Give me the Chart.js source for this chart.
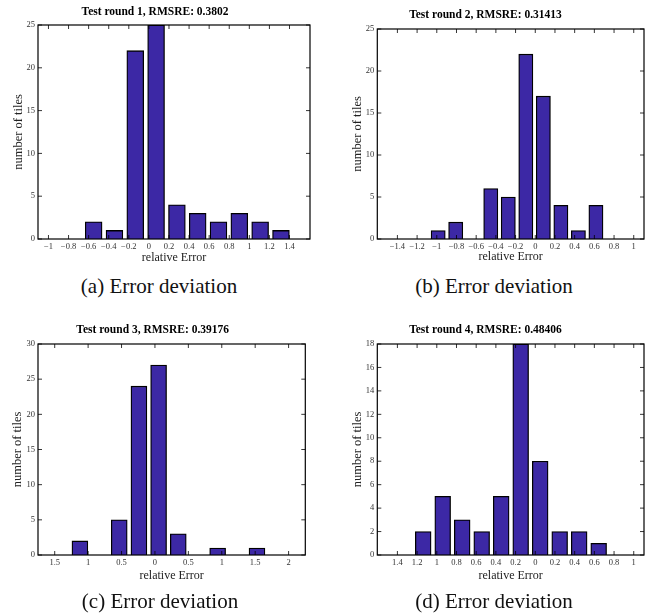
<!DOCTYPE html>
<html><head><meta charset="utf-8">
<script src="https://cdn.jsdelivr.net/npm/chart.js@4/dist/chart.umd.min.js"></script>
<style>
body{margin:0;width:655px;height:613px;background:#fff;position:relative;overflow:hidden;font-family:"Liberation Serif",serif}
canvas{position:absolute}
.cap{position:absolute;font-size:21px;transform:translate(-50%,-50%);white-space:nowrap;color:#111;line-height:1}
</style></head><body>
<canvas id="c1" width="327" height="270" style="left:0;top:0"></canvas>
<canvas id="c2" width="328" height="270" style="left:327px;top:0"></canvas>
<canvas id="c3" width="327" height="290" style="left:0;top:300px"></canvas>
<canvas id="c4" width="328" height="290" style="left:327px;top:300px"></canvas>
<div class="cap" style="left:159px;top:286px">(a) Error deviation</div>
<div class="cap" style="left:494px;top:286px">(b) Error deviation</div>
<div class="cap" style="left:160px;top:601px">(c) Error deviation</div>
<div class="cap" style="left:494px;top:601px">(d) Error deviation</div>
<script>
// ---- data ----
const titleA = 'Test round 1, RMSRE: 0.3802';
const binsA = [-0.55, -0.343, -0.136, 0.072, 0.279, 0.486, 0.693, 0.900, 1.108, 1.315];
const countsA = [2, 1, 22, 25, 4, 3, 2, 3, 2, 1];
const xTicksA = [-1, -0.8, -0.6, -0.4, -0.2, 0, 0.2, 0.4, 0.6, 0.8, 1, 1.2, 1.4];
const xLabelsA = ['\u22121', '\u22120.8', '\u22120.6', '\u22120.4', '\u22120.2', '0', '0.2', '0.4', '0.6', '0.8', '1', '1.2', '1.4'];
const yTicksA = [0, 5, 10, 15, 20, 25];

const titleB = 'Test round 2, RMSRE: 0.31413';
const binsB = [-0.986, -0.808, -0.630, -0.452, -0.274, -0.096, 0.082, 0.260, 0.438, 0.616];
const countsB = [1, 2, 0, 6, 5, 22, 17, 4, 1, 4];
const xTicksB = [-1.4, -1.2, -1, -0.8, -0.6, -0.4, -0.2, 0, 0.2, 0.4, 0.6, 0.8, 1];
const xLabelsB = ['\u22121.4', '\u22121.2', '\u22121', '\u22120.8', '\u22120.6', '\u22120.4', '\u22120.2', '0', '0.2', '0.4', '0.6', '0.8', '1'];
const yTicksB = [0, 5, 10, 15, 20, 25];

const titleC = 'Test round 3, RMSRE: 0.39176';
const binsC = [-1.123, -0.829, -0.534, -0.240, 0.055, 0.349, 0.644, 0.938, 1.233, 1.527];
const countsC = [2, 0, 5, 24, 27, 3, 0, 1, 0, 1];
const xTicksC = [-1.5, -1, -0.5, 0, 0.5, 1, 1.5, 2];
const xLabelsC = ['1.5', '1', '0.5', '0', '0.5', '1', '1.5', '2'];
const yTicksC = [0, 5, 10, 15, 20, 25, 30];

const titleD = 'Test round 4, RMSRE: 0.48406';
const binsD = [-1.138, -0.940, -0.742, -0.544, -0.346, -0.148, 0.050, 0.248, 0.446, 0.644];
const countsD = [2, 5, 3, 2, 5, 18, 8, 2, 2, 1];
const xTicksD = [-1.4, -1.2, -1, -0.8, -0.6, -0.4, -0.2, 0, 0.2, 0.4, 0.6, 0.8, 1];
const xLabelsD = ['1.4', '1.2', '1', '0.8', '0.6', '0.4', '0.2', '0', '0.2', '0.4', '0.6', '0.8', '1'];
const yTicksD = [0, 2, 4, 6, 8, 10, 12, 14, 16, 18];

const xTitle = 'relative Error';
const yTitle = 'number of tiles';

// ---- styling ----
const SERIF = '"Liberation Serif", "DejaVu Serif", serif';
const BAR = 'rgb(60,40,165)';

const frame = {
  id: 'frame',
  afterDatasetsDraw(chart) {
    const {ctx, chartArea: a, scales: {x, y}} = chart;
    ctx.save();
    ctx.strokeStyle = '#000';
    ctx.lineWidth = 1.2;
    ctx.strokeRect(a.left, a.top, a.right - a.left, a.bottom - a.top);
    ctx.lineWidth = 0.8;
    ctx.beginPath();
    x.ticks.forEach(t => {
      const p = x.getPixelForValue(t.value);
      ctx.moveTo(p, a.bottom); ctx.lineTo(p, a.bottom - 4);
      ctx.moveTo(p, a.top); ctx.lineTo(p, a.top + 4);
    });
    y.ticks.forEach(t => {
      const p = y.getPixelForValue(t.value);
      ctx.moveTo(a.left, p); ctx.lineTo(a.left + 4, p);
      ctx.moveTo(a.right, p); ctx.lineTo(a.right - 4, p);
    });
    ctx.stroke();
    ctx.restore();
  }
};

function make(id, o) {
  new Chart(document.getElementById(id), {
    type: 'bar',
    data: {datasets: [{
      data: o.bins.map((b, i) => ({x: b, y: o.counts[i]})),
      backgroundColor: BAR, borderColor: '#000', borderWidth: 1.3,
      borderSkipped: 'start', barThickness: 'flex', categoryPercentage: 1, barPercentage: 0.81
    }]},
    options: {
      responsive: false, animation: false, devicePixelRatio: 1,
      layout: {padding: {left: 0, right: o.padR, top: 0, bottom: 0}},
      plugins: {
        legend: {display: false}, tooltip: {enabled: false},
        title: {display: true, text: o.title, color: '#000',
          font: {family: SERIF, size: 11.5, weight: 'bold'},
          padding: {top: o.tTop, bottom: o.tBot}}
      },
      scales: {
        x: {
          type: 'linear', min: o.xmin, max: o.xmax,
          grid: {display: false, drawTicks: false}, border: {display: false},
          afterBuildTicks: s => { s.ticks = o.xticks.map(v => ({value: v})); },
          ticks: {autoSkip: false, maxRotation: 0, padding: 3, color: '#333',
            font: {family: SERIF, size: 8.5}, callback: (v, i) => o.xlabels[i]},
          title: {display: true, text: xTitle, color: '#222',
            font: {family: SERIF, size: 12}, padding: {top: 0, bottom: o.xtPad}},
          afterFit: s => { s.height = o.xh; }
        },
        y: {
          type: 'linear', min: 0, max: o.ymax,
          grid: {display: false, drawTicks: false}, border: {display: false},
          afterBuildTicks: s => { s.ticks = o.yticks.map(v => ({value: v})); },
          ticks: {padding: 3, color: '#333', font: {family: SERIF, size: 8.5}},
          title: {display: true, text: yTitle, color: '#222',
            font: {family: SERIF, size: 12.5}, padding: {top: o.ytPad, bottom: 0}},
          afterFit: s => { s.width = o.yw; }
        }
      }
    },
    plugins: [frame]
  });
}

make('c1', {title: titleA, bins: binsA, counts: countsA, xticks: xTicksA, xlabels: xLabelsA, yticks: yTicksA,
  xmin: -1, xmax: 1.5, ymax: 25, padR: 17, yw: 38, xh: 31, tTop: 5.5, tBot: 5.7, xtPad: 4.8, ytPad: 11});
make('c2', {title: titleB, bins: binsB, counts: countsB, xticks: xTicksB, xlabels: xLabelsB, yticks: yTicksB,
  xmin: -1.5, xmax: 1, ymax: 25, padR: 11, yw: 50.3, xh: 31, tTop: 8, tBot: 7.2, xtPad: 5.8, ytPad: 23});
make('c3', {title: titleC, bins: binsC, counts: countsC, xticks: xTicksC, xlabels: xLabelsC, yticks: yTicksC,
  xmin: -1.5, xmax: 2, ymax: 30, padR: 21.7, yw: 38, xh: 35, tTop: 23.1, tBot: 7.1, xtPad: 6.8, ytPad: 10});
make('c4', {title: titleD, bins: binsD, counts: countsD, xticks: xTicksD, xlabels: xLabelsD, yticks: yTicksD,
  xmin: -1.5, xmax: 1, ymax: 18, padR: 11, yw: 50.3, xh: 35, tTop: 23.1, tBot: 7.1, xtPad: 6.8, ytPad: 23});
</script>
</body></html>
